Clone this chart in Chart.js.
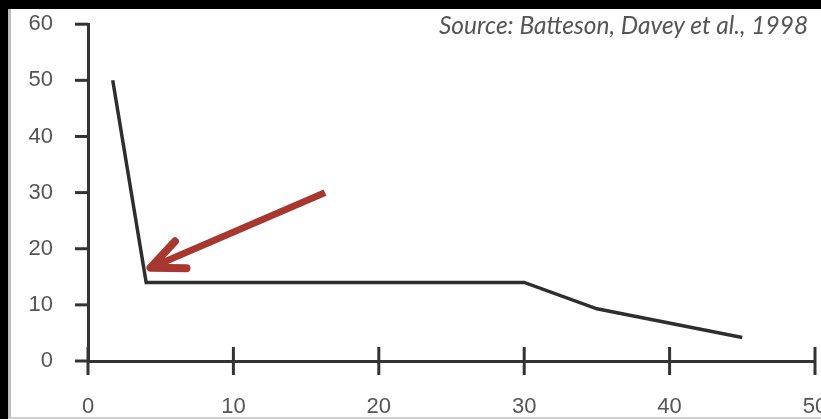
<!DOCTYPE html>
<html>
<head>
<meta charset="utf-8">
<script src="https://cdn.jsdelivr.net/npm/chart.js@4.4.1/dist/chart.umd.min.js"></script>
<style>
  html, body { margin: 0; padding: 0; background: #000; width: 821px; height: 419px; overflow: hidden; }
  #frame { position: absolute; left: 8px; top: 9px; width: 813px; height: 408px; background: #fff;
           border-left: 3px solid #bdbdbd; border-bottom: 2px solid #cfcfcf; overflow: hidden; }
  #myChart { position: absolute; left: 0; top: 0; }
  #source { position: absolute; left: 428px; top: 1px; font: italic 24.5px Lato, sans-serif; color: #555; white-space: nowrap; }
</style>
</head>
<body>
<div id="frame">
  <canvas id="myChart" width="840" height="408"></canvas>
  <div id="source">Source: Batteson, Davey et al., 1998</div>
</div>
<script>
/*---------------------------- data ------------------------------------*/
var xValues = [1.7, 4, 30, 35, 45];
var yValues = [50, 14, 14, 9.3, 4.2];
var xTicks = [0, 10, 20, 30, 40, 50];
var yTicks = [0, 10, 20, 30, 40, 50, 60];
var arrowFrom = [16.3, 30];
var arrowTo = [4.3, 16.6];

var points = xValues.map(function (x, i) { return { x: x, y: yValues[i] }; });

/*---------------------------- tick marks + arrow ------------------------------------*/
var extras = {
  id: "extras",
  afterDraw: function (chart) {
    var ctx = chart.ctx;
    var xs = chart.scales.x, ys = chart.scales.y;
    var axisX = xs.getPixelForValue(0);
    var axisY = ys.getPixelForValue(0);
    ctx.save();
    ctx.strokeStyle = "#333";
    ctx.lineWidth = 3;
    ctx.lineCap = "butt";
    xTicks.forEach(function (v) {
      var px = xs.getPixelForValue(v);
      ctx.beginPath();
      ctx.moveTo(px, axisY - 14);
      ctx.lineTo(px, axisY + 14);
      ctx.stroke();
    });
    yTicks.forEach(function (v) {
      var py = ys.getPixelForValue(v);
      ctx.beginPath();
      ctx.moveTo(axisX - 13, py);
      ctx.lineTo(axisX, py);
      ctx.stroke();
    });

    // red arrow
    var x1 = xs.getPixelForValue(arrowFrom[0]), y1 = ys.getPixelForValue(arrowFrom[1]);
    var x2 = xs.getPixelForValue(arrowTo[0]), y2 = ys.getPixelForValue(arrowTo[1]);
    var ang = Math.atan2(y1 - y2, x1 - x2);
    var head = 36, spread = 24 * Math.PI / 180;
    ctx.strokeStyle = "#a8382f";
    ctx.lineWidth = 7;
    ctx.beginPath();
    ctx.moveTo(x1, y1);
    ctx.lineTo(x2 + 3 * Math.cos(ang), y2 + 3 * Math.sin(ang));
    ctx.stroke();
    ctx.lineCap = "round";
    ctx.lineJoin = "round";
    ctx.lineWidth = 8;
    ctx.beginPath();
    ctx.moveTo(x2 + head * Math.cos(ang - spread), y2 + head * Math.sin(ang - spread));
    ctx.lineTo(x2, y2);
    ctx.lineTo(x2 + head * Math.cos(ang + spread), y2 + head * Math.sin(ang + spread));
    ctx.stroke();
    ctx.restore();
  }
};

var tickFont = { family: "Liberation Sans, Arial", size: 22 };

new Chart("myChart", {
  type: "line",
  data: {
    datasets: [{
      data: points,
      borderColor: "#2e2e2e",
      borderWidth: 3.5,
      pointRadius: 0,
      tension: 0,
      fill: false
    }]
  },
  options: {
    responsive: false,
    animation: false,
    devicePixelRatio: 1,
    layout: { padding: { left: 0, top: 12.5, right: 36, bottom: 0 } },
    plugins: { legend: { display: false }, tooltip: { enabled: false } },
    scales: {
      x: {
        type: "linear",
        min: 0, max: 50,
        grid: { display: true, drawOnChartArea: false, drawTicks: true, tickLength: 31, color: "rgba(0,0,0,0)" },
        border: { display: true, color: "#333", width: 3 },
        ticks: { stepSize: 10, padding: 2, color: "#555", font: tickFont },
        afterFit: function (s) { s.height = 56; }
      },
      y: {
        min: 0, max: 60,
        grid: { display: true, drawOnChartArea: false, drawTicks: true, tickLength: 33, color: "rgba(0,0,0,0)" },
        border: { display: true, color: "#333", width: 3 },
        ticks: { stepSize: 10, padding: 2, color: "#555", font: tickFont },
        afterFit: function (s) { s.width = 77; }
      }
    }
  },
  plugins: [extras]
});
</script>
</body>
</html>
